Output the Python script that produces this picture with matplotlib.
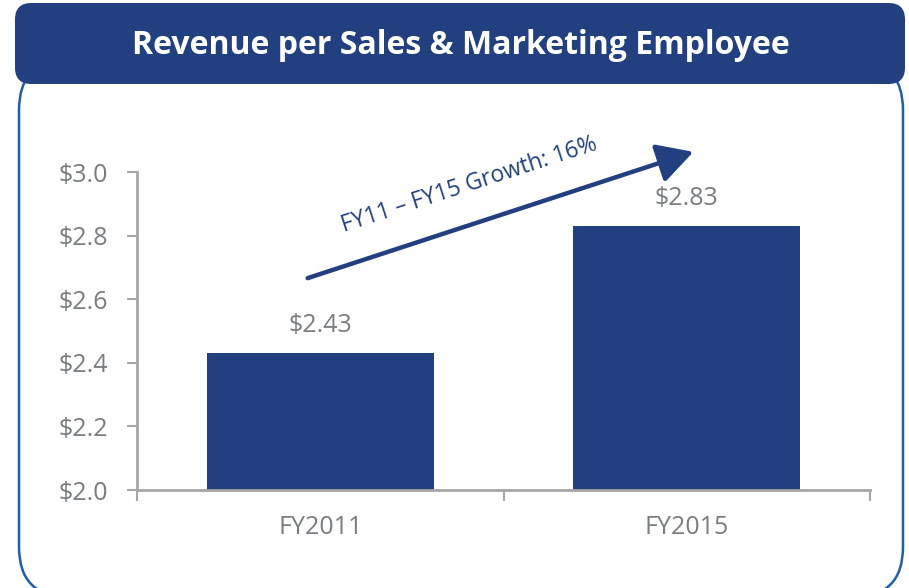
import matplotlib
matplotlib.use("Agg")
import matplotlib.pyplot as plt
from matplotlib.patches import FancyBboxPatch, FancyArrowPatch
import matplotlib.ticker as mticker

categories = ["FY2011", "FY2015"]
values = [2.43, 2.83]
value_labels = ["$2.43", "$2.83"]
title = "Revenue per Sales & Marketing Employee"
growth_text = "FY11 – FY15 Growth: 16%"

NAVY = "#22407F"
GRAY_TXT = "#787D82"
AXIS_GRAY = "#A6A6A6"
BORDER = "#1F5FAF"

plt.rcParams['font.family'] = ['Open Sans', 'DejaVu Sans']

W, H = 909, 588
fig = plt.figure(figsize=(W/100, H/100), dpi=100)

def fx(px): return px / W
def fy(py): return 1 - py / H

# outer border (bottom edge runs just past the image edge)
border = FancyBboxPatch((fx(19), fy(597)), fx(884), fy(60) - fy(597),
                        boxstyle="round,pad=0,rounding_size=0.055",
                        transform=fig.transFigure, facecolor="white",
                        edgecolor=BORDER, linewidth=1.8, mutation_aspect=W/H,
                        zorder=-2)
fig.patches.append(border)

# title banner
banner = FancyBboxPatch((fx(15), fy(84)), fx(890), fy(3) - fy(84),
                        boxstyle="round,pad=0,rounding_size=0.018",
                        transform=fig.transFigure, facecolor=NAVY,
                        edgecolor="none", mutation_aspect=W/H, zorder=-1)
fig.patches.append(banner)
fig.text(fx(461), fy(46), title, color="white", fontsize=23, fontweight="bold",
         ha="center", va="center")

ax = fig.add_axes([fx(137), fy(490), fx(870) - fx(137), fy(172) - fy(490)])
ax.set_facecolor("none")
x = list(range(len(categories)))
ax.bar(x, values, width=0.62, color=NAVY, zorder=2)
ax.set_xlim(-0.5, len(categories) - 0.5)
ax.set_ylim(2.0, 3.0)
ax.set_yticks([2.0, 2.2, 2.4, 2.6, 2.8, 3.0])
ax.yaxis.set_major_formatter(mticker.FuncFormatter(lambda v, p: f"${v:.1f}"))
ax.set_xticks(x)
ax.set_xticklabels(categories)
ax.set_xticks([i - 0.5 for i in range(len(categories) + 1)], minor=True)
ax.tick_params(axis="x", which="major", length=0, pad=18, labelsize=18, labelcolor=GRAY_TXT)
ax.tick_params(axis="x", which="minor", length=8, width=1.5, color=AXIS_GRAY)
ax.tick_params(axis="y", length=7, width=1.5, color=AXIS_GRAY, labelsize=18,
               labelcolor=GRAY_TXT, pad=14)
for s in ["top", "right"]:
    ax.spines[s].set_visible(False)
for s in ["left", "bottom"]:
    ax.spines[s].set_color(AXIS_GRAY)
    ax.spines[s].set_linewidth(2)

for xi, v, lab in zip(x, values, value_labels):
    ax.annotate(lab, (xi, v), xytext=(0, 11), textcoords="offset points",
                ha="center", va="bottom", fontsize=18, color=GRAY_TXT)

arrow = FancyArrowPatch((fx(305), fy(279)), (fx(696), fy(151)),
                        transform=fig.transFigure, arrowstyle="-|>,head_length=10,head_width=5.5",
                        mutation_scale=2.2, color=NAVY, linewidth=3.2, zorder=5)
fig.patches.append(arrow)
fig.text(fx(469), fy(185), growth_text, color=NAVY, fontsize=16.5,
         rotation=18, ha="center", va="center", rotation_mode="anchor")

fig.savefig("out.png", dpi=100)
